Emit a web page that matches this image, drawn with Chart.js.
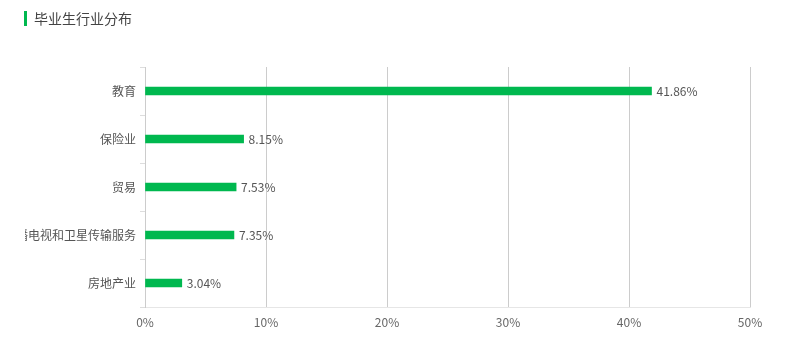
<!DOCTYPE html>
<html>
<head>
<meta charset="utf-8">
<script src="https://cdn.jsdelivr.net/npm/chart.js@4/dist/chart.umd.min.js"></script>
<style>
  html, body { margin: 0; padding: 0; background: #fff; }
  #wrap { position: relative; width: 792px; height: 356px; overflow: hidden; }
  #chart { position: absolute; left: 25px; top: 0; }
  #titlebar { position: absolute; left: 24px; top: 11px; width: 3px; height: 15px; background: #00b84f; }
  #title { position: absolute; left: 34px; top: 8px; font: 14px "Noto Sans CJK SC", sans-serif; color: #444; line-height: 20px; }
</style>
</head>
<body>
<div id="wrap">
  <canvas id="chart" width="767" height="356"></canvas>
  <div id="titlebar"></div>
  <div id="title">毕业生行业分布</div>
</div>
<script>
const categories = ["教育", "保险业", "贸易", "广播电视和卫星传输服务", "房地产业"];
const values = [41.86, 8.15, 7.53, 7.35, 3.04];
const xTicks = [0, 10, 20, 30, 40, 50];

const FONT = '"Noto Sans CJK SC", sans-serif';

const valueLabels = {
  id: 'valueLabels',
  afterDatasetsDraw(chart) {
    const ctx = chart.ctx;
    const meta = chart.getDatasetMeta(0);
    ctx.save();
    ctx.font = '12px ' + FONT;
    ctx.fillStyle = '#555';
    ctx.textAlign = 'left';
    ctx.textBaseline = 'middle';
    meta.data.forEach((bar, i) => {
      ctx.fillText(values[i].toFixed(2) + '%', bar.x + 5, bar.y);
    });
    ctx.restore();
  }
};

new Chart(document.getElementById('chart'), {
  type: 'bar',
  data: {
    labels: categories,
    datasets: [{
      data: values,
      backgroundColor: '#00b84f',
      barThickness: 8
    }]
  },
  options: {
    indexAxis: 'y',
    responsive: false,
    animation: false,
    layout: { padding: { top: 67, right: 42, left: 0, bottom: 0 } },
    plugins: { legend: { display: false }, tooltip: { enabled: false } },
    scales: {
      x: {
        min: 0, max: 50,
        afterBuildTicks(scale) { scale.ticks = xTicks.map(v => ({ value: v })); },
        afterFit(scale) { scale.height = 49; },
        ticks: {
          padding: 8,
          color: '#666',
          font: { size: 12, family: FONT },
          callback: v => v + '%'
        },
        grid: { color: '#cccccc', drawTicks: false, lineWidth: 1 },
        border: { color: '#e6e6e6', display: true }
      },
      y: {
        afterFit(scale) { scale.width = 120; },
        ticks: {
          padding: 4,
          color: '#555',
          font: { size: 12, family: FONT },
          autoSkip: false
        },
        grid: { offset: true, drawOnChartArea: false, drawTicks: true, tickLength: 5, color: '#dddddd' },
        border: { color: '#cccccc', display: true }
      }
    }
  },
  plugins: [valueLabels]
});
</script>
</body>
</html>
